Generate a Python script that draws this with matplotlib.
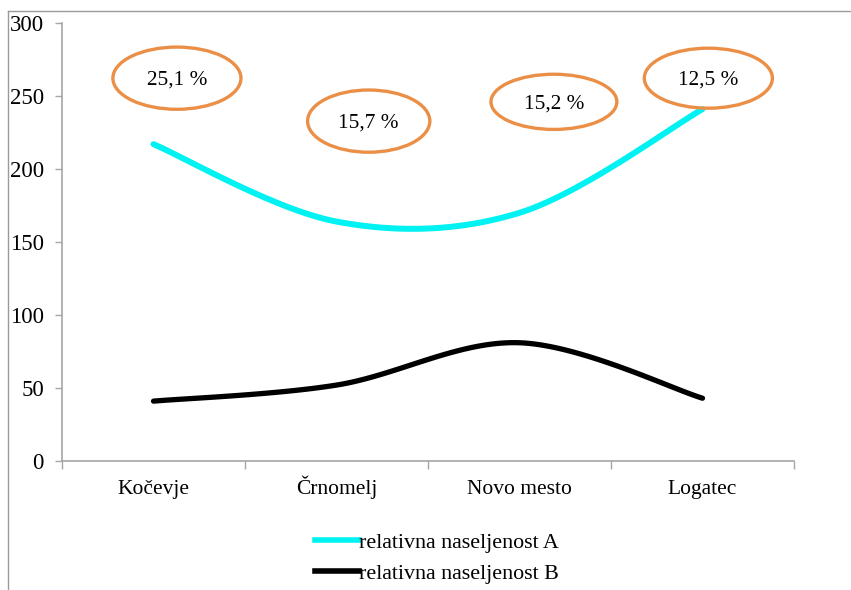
import numpy as np
import matplotlib
matplotlib.use('Agg')
import matplotlib.pyplot as plt
from matplotlib.patches import Ellipse
from matplotlib.lines import Line2D

plt.rcParams['font.family'] = ['Liberation Serif', 'DejaVu Serif']

categories = ['Kočevje', 'Črnomelj', 'Novo mesto', 'Logatec']
naseljenost_a = [217, 164, 170, 241]
naseljenost_b = [41, 52, 81, 43]
deleži = ['25,1 %', '15,7 %', '15,2 %', '12,5 %']
series_names = ['relativna naseljenost A', 'relativna naseljenost B']


def smooth(xs, ys, n=40):
    # Excel-like smoothing: Catmull-Rom expressed as cubic Bezier segments
    p = np.column_stack([xs, ys]).astype(float)
    p = np.vstack([p[0], p, p[-1]])
    out = []
    for i in range(1, len(p) - 2):
        p0, p1, p2, p3 = p[i - 1], p[i], p[i + 1], p[i + 2]
        b1 = p1 + (p2 - p0) / 6
        b2 = p2 - (p3 - p1) / 6
        t = np.linspace(0, 1, n)[:, None]
        seg = ((1 - t) ** 3) * p1 + 3 * ((1 - t) ** 2) * t * b1 \
            + 3 * (1 - t) * t ** 2 * b2 + t ** 3 * p2
        out.append(seg if i == 1 else seg[1:])
    seg = np.vstack(out)
    return seg[:, 0], seg[:, 1]


fig = plt.figure(figsize=(8.51, 5.90), dpi=100)
ax = fig.add_axes([62 / 851, 1 - 461 / 590, 732 / 851, 438 / 590])

x = np.arange(len(categories))
xa, ya = smooth(x, naseljenost_a)
xb, yb = smooth(x, naseljenost_b)
ax.plot(xa, ya, color='#00F2F2', lw=4.3, solid_capstyle='round', zorder=3)
ax.plot(xb, yb, color='black', lw=3.8, solid_capstyle='round', zorder=3)

ax.set_xlim(-0.5, len(categories) - 0.5)
ax.set_ylim(0, 300)
ax.set_yticks(np.arange(0, 301, 50))
ax.set_xticks(np.arange(-0.5, len(categories), 1.0))
ax.set_xticklabels([])
ax.set_xticks(x, minor=True)
ax.set_xticklabels(categories, minor=True)

for s in ['top', 'right']:
    ax.spines[s].set_visible(False)
for s in ['left', 'bottom']:
    ax.spines[s].set_color('#a6a6a6')
    ax.spines[s].set_linewidth(1.2)
ax.tick_params(axis='y', which='major', direction='out', length=5, width=1,
               color='#a6a6a6', labelsize=16.5, pad=8)
ax.tick_params(axis='x', which='major', direction='out', length=6, width=1,
               color='#a6a6a6')
ax.tick_params(axis='x', which='minor', length=0, labelsize=15.5, pad=24)
for lbl in ax.get_xticklabels(minor=True):
    lbl.set_verticalalignment('baseline')

# ellipses with shares (axes fractions)
ell_pos = [(0.157, 0.874, 0.175, 0.142),
           (0.419, 0.776, 0.167, 0.142),
           (0.672, 0.820, 0.172, 0.126),
           (0.883, 0.874, 0.175, 0.137)]
for (cx, cy, w, h), txt in zip(ell_pos, deleži):
    e = Ellipse((cx, cy), w, h, transform=ax.transAxes, fill=False,
                edgecolor='#EB8F47', lw=2.4, zorder=4, clip_on=False)
    ax.add_patch(e)
    ax.text(cx, cy - 0.004, txt, transform=ax.transAxes, ha='center',
            va='center', fontsize=15.3, zorder=5)

handles = [Line2D([], [], color='#00F2F2', lw=4.0),
           Line2D([], [], color='black', lw=4.0)]
fig.legend(handles, series_names, loc='center left',
           bbox_to_anchor=(315 / 851, 1 - 558 / 590), frameon=False,
           fontsize=15.8, handlelength=2.0, handletextpad=0.0,
           labelspacing=0.5, borderaxespad=0, borderpad=0)

# outer chart-area border (left and top edges)
fig.add_artist(Line2D([8 / 851, 8 / 851], [0, 1 - 11 / 590],
                      transform=fig.transFigure, color='#9a9a9a', lw=1))
fig.add_artist(Line2D([8 / 851, 1], [1 - 11 / 590, 1 - 11 / 590],
                      transform=fig.transFigure, color='#9a9a9a', lw=1))

fig.savefig('out.png', dpi=100)
